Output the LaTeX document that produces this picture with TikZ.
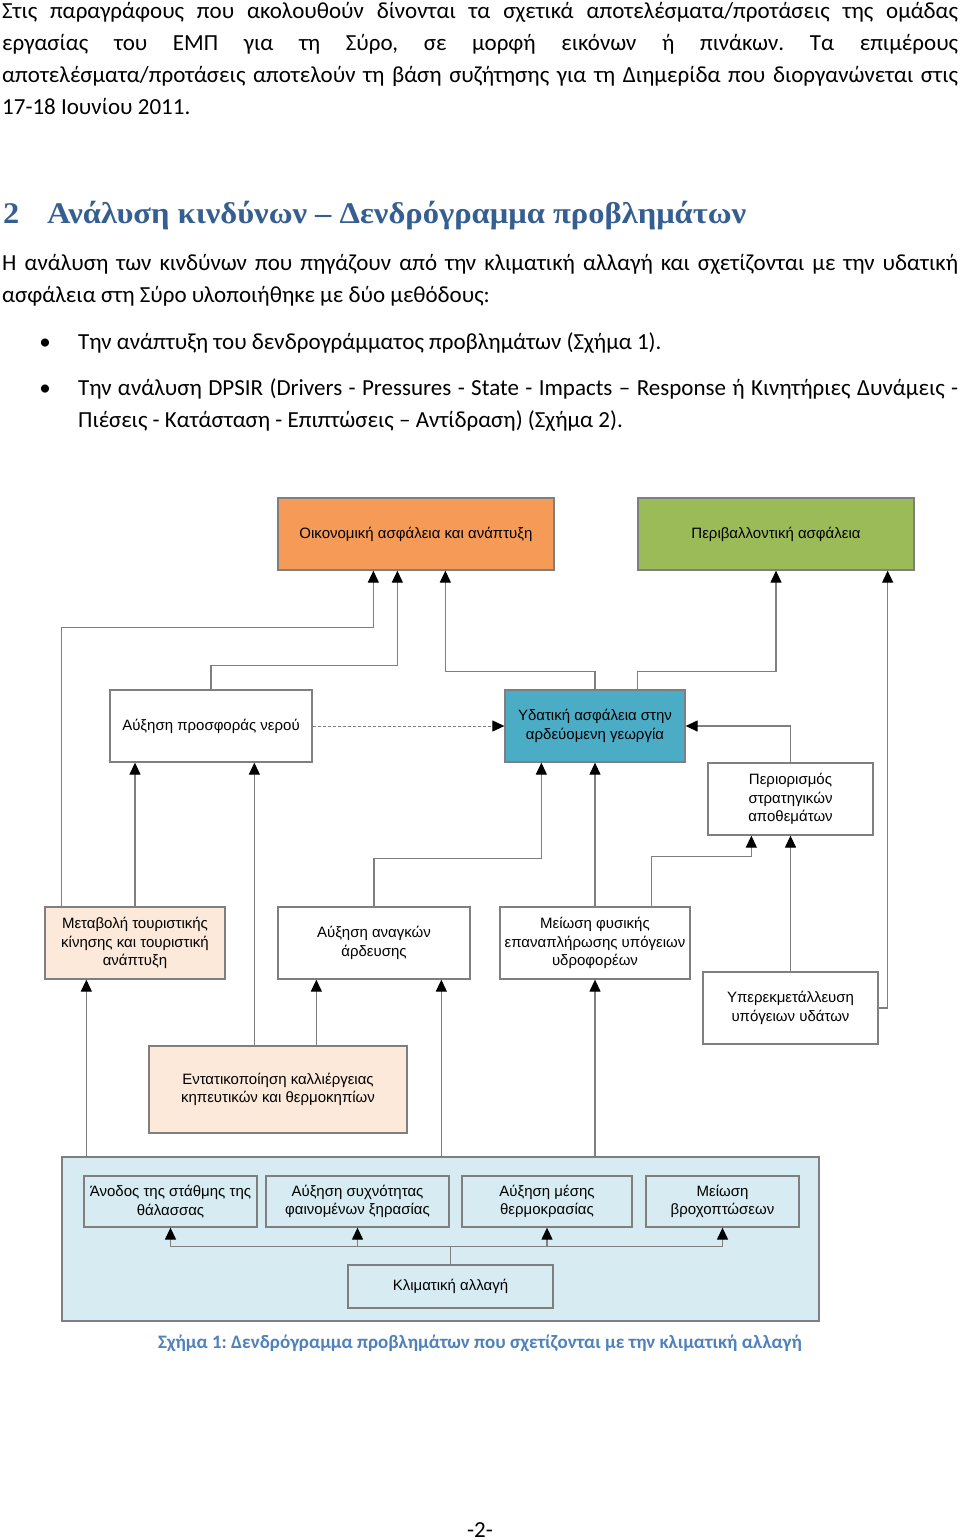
\documentclass[tikz,border=0pt]{standalone}
\usepackage{fontspec}
\setmainfont{Carlito}
\newfontfamily\diag{Liberation Sans}
\newfontfamily\headf{Liberation Serif}
\usetikzlibrary{arrows.meta,calc}
\definecolor{ecoorange}{HTML}{F59A57}
\definecolor{envgreen}{HTML}{9BBB59}
\definecolor{waterblue}{HTML}{4BACC6}
\definecolor{peach}{HTML}{FCE9D9}
\definecolor{lightblue}{HTML}{D6ECF2}
\definecolor{linegray}{HTML}{7F7F7F}
\definecolor{headblue}{HTML}{365F91}
\definecolor{capblue}{HTML}{4F81BD}
\frenchspacing
\begin{document}
\begin{tikzpicture}[x=1pt,y=-1pt,
  body/.style={font=\fontsize{23}{32}\selectfont\frenchspacing, anchor=base west, inner sep=0pt},
  dbox/.style={draw=linegray, line width=1.3pt, inner sep=2pt, align=center,
     font=\diag\fontsize{15}{18.3}\selectfont, minimum height=72pt},
  tip/.style={-{Triangle[length=12pt,width=11pt,color=black]}},
  conn/.style={draw=linegray, line width=1.3pt, tip},
  dashconn/.style={draw=linegray, line width=1pt, dash pattern=on 3pt off 2pt, tip}
]
\useasboundingbox (0,0) rectangle (960,1540);
\fill[white] (0,0) rectangle (960,1540);

% ---------- text ----------
\node[body] (p1) at (2,18) {\makebox[956pt][s]{Στις παραγράφους που ακολουθούν δίνονται τα σχετικά αποτελέσματα/προτάσεις της ομάδας}};
\node[body] (p2) at (2,50) {\makebox[956pt][s]{εργασίας του ΕΜΠ για τη Σύρο, σε μορφή εικόνων ή πινάκων. Τα επιμέρους}};
\node[body] (p3) at (2,82) {\makebox[956pt][s]{αποτελέσματα/προτάσεις αποτελούν τη βάση συζήτησης για τη Διημερίδα που διοργανώνεται στις}};
\node[body] (p4) at (2,114) {17-18 Ιουνίου 2011.};

\node[anchor=base west, inner sep=0pt, text=headblue, font=\headf\bfseries\fontsize{30}{31}\selectfont] (hnum) at (3,223) {\scalebox{1.08}[1]{2}};
\node[anchor=base west, inner sep=0pt, text=headblue, font=\headf\bfseries\fontsize{30}{31}\selectfont] (htext) at (47,223) {\resizebox{699pt}{\height}{Ανάλυση κινδύνων – Δενδρόγραμμα προβλημάτων}};

\node[body] (q1) at (2,270) {\makebox[956pt][s]{Η ανάλυση των κινδύνων που πηγάζουν από την κλιματική αλλαγή και σχετίζονται με την υδατική}};
\node[body] (q2) at (2,302) {ασφάλεια στη Σύρο υλοποιήθηκε με δύο μεθόδους:};

\node[body, anchor=base] (b1) at (45,349) {•};
\node[body] (l1) at (78,349) {Την ανάπτυξη του δενδρογράμματος προβλημάτων (Σχήμα 1).};
\node[body, anchor=base] (b2) at (45,395) {•};
\node[body] (l2) at (78,395) {\makebox[880pt][s]{Την ανάλυση DPSIR (Drivers - Pressures - State - Impacts – Response ή Κινητήριες Δυνάμεις -}};
\node[body] (l3) at (78,427) {Πιέσεις - Κατάσταση - Επιπτώσεις – Αντίδραση) (Σχήμα 2).};

% ---------- diagram boxes ----------
\node[draw=linegray, line width=1.3pt, fill=lightblue, minimum width=757pt, minimum height=164pt, inner sep=0pt] (group) at (440.5,1239) {};

\node[dbox, fill=ecoorange, minimum width=276pt] (eco) at (416,534) {Οικονομική ασφάλεια και ανάπτυξη};
\node[dbox, fill=envgreen, minimum width=276pt] (env) at (776,534) {Περιβαλλοντική ασφάλεια};
\node[dbox, fill=white, minimum width=202pt] (supply) at (211,726) {Αύξηση προσφοράς νερού};
\node[dbox, fill=waterblue, minimum width=180pt] (water) at (595,726) {Υδατική ασφάλεια στην\\αρδεύομενη γεωργία};
\node[dbox, fill=white, minimum width=165pt] (reserves) at (790.5,799) {Περιορισμός\\στρατηγικών\\αποθεμάτων};
\node[dbox, fill=peach, minimum width=180pt] (tourism) at (135,943) {Μεταβολή τουριστικής\\κίνησης και τουριστική\\ανάπτυξη};
\node[dbox, fill=white, minimum width=192pt] (irrig) at (374,943) {Αύξηση αναγκών\\άρδευσης};
\node[dbox, fill=white, minimum width=190pt] (recharge) at (595,943) {Μείωση φυσικής\\επαναπλήρωσης υπόγειων\\υδροφορέων};
\node[dbox, fill=white, minimum width=175pt] (overexp) at (790.5,1008) {Υπερεκμετάλλευση\\υπόγειων υδάτων};
\node[dbox, fill=peach, minimum width=258pt, minimum height=87pt] (intens) at (278,1089.5) {Εντατικοποίηση καλλιέργειας\\κηπευτικών και θερμοκηπίων};

\node[dbox, fill=lightblue, minimum width=173pt, minimum height=51pt] (sea) at (170.5,1201.5) {Άνοδος της στάθμης της\\θάλασσας};
\node[dbox, fill=lightblue, minimum width=183pt, minimum height=51pt] (drought) at (357.5,1201.5) {Αύξηση συχνότητας\\φαινομένων ξηρασίας};
\node[dbox, fill=lightblue, minimum width=170pt, minimum height=51pt] (temp) at (547,1201.5) {Αύξηση μέσης\\θερμοκρασίας};
\node[dbox, fill=lightblue, minimum width=153pt, minimum height=51pt] (rain) at (722.5,1201.5) {Μείωση\\βροχοπτώσεων};
\node[dbox, fill=lightblue, minimum width=205pt, minimum height=43pt] (climate) at (450.5,1286.5) {Κλιματική αλλαγή};

% ---------- start coordinates ----------
\coordinate (tA) at ([xshift=17pt]tourism.north west);
\coordinate (iA) at ([xshift=106pt]intens.north west);
\coordinate (iB) at ([xshift=168pt]intens.north west);
\coordinate (gA) at ([xshift=25pt]group.north west);
\coordinate (gB) at ([xshift=380pt]group.north west);
\coordinate (wA) at ([xshift=133pt]water.north west);
\coordinate (rA) at ([xshift=152pt]recharge.north west);

% ---------- connectors ----------
\draw[conn] (tA) -- ++(0,-279) -| ([xshift=96pt]eco.south west);
\draw[conn] (tourism.north) -- (tourism.north |- supply.south);
\draw[conn] (iA) -- (iA |- supply.south);
\draw[conn] (supply.north) -- ++(0,-24) -| ([xshift=120pt]eco.south west);
\draw[conn] (water.north) -- ++(0,-18) -| ([xshift=168pt]eco.south west);
\draw[conn] (wA) -- ++(0,-18) -| (env.south);
\draw[conn] (overexp.east) -| ([xshift=-27pt]env.south east);
\draw[conn] (reserves.north) |- (water.east);
\draw[conn] (rA) -- ++(0,-50) -| ([xshift=44pt]reserves.south west);
\draw[conn] (overexp.north) -- (reserves.south);
\draw[conn] (irrig.north) -- ++(0,-48) -| ([xshift=37pt]water.south west);
\draw[conn] (recharge.north) -- (water.south);
\draw[conn] (iB) -- (iB |- irrig.south);
\draw[conn] (gA) -- (gA |- tourism.south);
\draw[conn] (gB) -- (gB |- irrig.south);
\draw[conn] (recharge.south |- group.north) -- (recharge.south);
\draw[dashconn] (supply.east) -- (water.west);
\foreach \t in {sea,drought,temp,rain}
  \draw[conn] (climate.north) -- ++(0,-18) -| (\t.south);

% ---------- caption ----------
\node[anchor=base, inner sep=0pt, text=capblue, font=\bfseries\fontsize{19}{20}\selectfont] (cap) at (480,1348) {Σχήμα 1: Δενδρόγραμμα προβλημάτων που σχετίζονται με την κλιματική αλλαγή};
\node[anchor=base, inner sep=0pt, font=\fontsize{23}{24}\selectfont] (pg) at (480,1537) {-2-};
\end{tikzpicture}
\end{document}
